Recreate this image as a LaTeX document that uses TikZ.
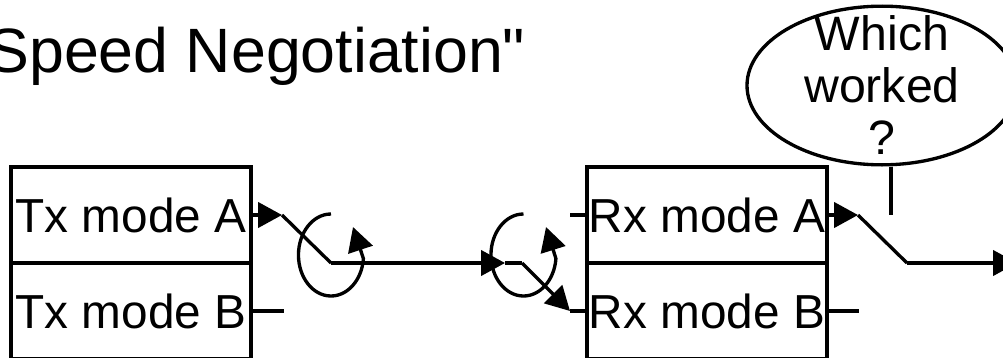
\documentclass[tikz,border=0pt]{standalone}
\usepackage{fontspec}
\usepackage{xcolor}
\setmainfont{Liberation Sans}[Ligatures=NoRequired]
\newfontfamily\plainquote{Liberation Sans}
\usetikzlibrary{arrows.meta, shapes.geometric}

\begin{document}
\begin{tikzpicture}[x=0.75pt, y=0.75pt, line width=2.5pt,
    modebox/.style={rectangle, draw, minimum width=180pt, minimum height=72pt, inner sep=0pt, font=\fontsize{35.8}{39}\selectfont},
    wire/.style={draw, line join=miter},
    tipline/.style={draw, -{Triangle[length=18pt, width=19pt]}},
    askbubble/.style={ellipse, draw, minimum width=202.5pt, minimum height=119pt, inner sep=0pt},
    asktext/.style={align=center, inner sep=0pt, font=\fontsize{36.2}{39}\selectfont}]
\clip (0,-357) rectangle (1003,0);

\node[anchor=base east, inner sep=0pt, font=\fontsize{47}{52}\selectfont] at (527,-72) (title) {Speed Negotiation\plainquote\char34};

\node[modebox] at (131,-215) (txa) {Tx mode A};
\node[modebox] at (131,-311) (txb) {Tx mode B};
\node[modebox] at (707,-215) (rxa) {Rx mode A};
\node[modebox] at (707,-311) (rxb) {Rx mode B};
\node[askbubble] at (882,-85.5) (which) {};
\node[asktext] at (882,-85.5) (whichtext) {Which\\worked\\?};

\coordinate (txpole) at (282,-215);
\coordinate (txhinge) at (331,-263);
\coordinate (txrot) at (331,-214);
\coordinate (txrotend) at (353,-227);
\coordinate (rxin) at (505,-263);
\coordinate (rxhinge) at (522,-263);
\coordinate (rxrot) at (523.5,-214);
\coordinate (rxrotend) at (546,-227);
\coordinate (rxpole) at (570,-311);
\coordinate (rxopen) at (570,-215);
\coordinate (txopen) at (284,-311);
\coordinate (outpole) at (858,-215);
\coordinate (outhinge) at (907,-263);
\coordinate (outend) at (1017,-263);
\coordinate (outopen) at (859,-311);
\coordinate (leverend) at (891,-215);

\draw[tipline] (txa.east) -- (txpole);
\draw[wire] (txpole) -- (txhinge);
\draw[tipline] (txhinge) -- (rxin);
\draw[wire] (rxin) -- (rxhinge);
\draw[tipline] (rxhinge) -- (rxpole);
\draw[wire] (rxpole) -- (rxpole -| rxb.west);
\draw[wire] (rxopen) -- (rxa.west);
\draw[wire] (txb.east) -- (txopen);
\draw[tipline] (rxa.east) -- (outpole);
\draw[wire] (outpole) -- (outhinge);
\draw[tipline] (outhinge) -- (outend);
\draw[wire] (rxb.east) -- (outopen);
\draw[wire] (leverend |- which.south) -- (leverend);

\draw[tipline] (txrot) arc[start angle=90, end angle=355, x radius=24.4pt, y radius=30.75pt] -- (txrotend);
\draw[tipline] (rxrot) arc[start angle=90, end angle=355, x radius=24.4pt, y radius=30.75pt] -- (rxrotend);

\end{tikzpicture}
\end{document}
